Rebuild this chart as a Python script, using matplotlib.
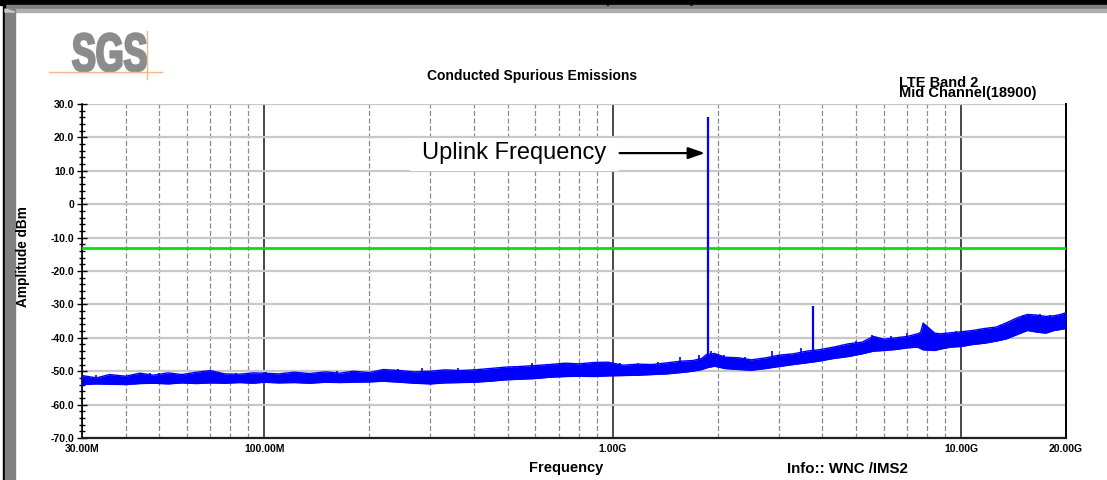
import matplotlib
matplotlib.use('Agg')
import matplotlib.pyplot as plt
import matplotlib.patches as patches
from matplotlib.textpath import TextPath
from matplotlib.font_manager import FontProperties
from matplotlib.transforms import Affine2D
from matplotlib.ticker import FixedLocator, LogLocator, NullFormatter
import numpy as np

plt.rcParams['font.family'] = ['Liberation Sans', 'DejaVu Sans']

# spectrum trace, read as an envelope (MHz, dBm)
trace_mhz = [30, 33, 36, 40, 44, 48, 53, 58, 64, 70, 77, 85, 93, 100, 110, 122, 135,
             150, 165, 180, 200, 220, 245, 270, 300, 330, 365, 400, 445, 490, 540, 600,
             660, 730, 800, 880, 970, 1070, 1180, 1300, 1430, 1570, 1700, 1800, 1860,
             1960, 2100, 2300, 2500, 2750, 3000, 3300, 3600, 3900, 4300, 4750, 5200,
             5600, 6000, 6500, 7000, 7500, 7650, 7780, 8400, 8700, 9300, 10000, 10800,
             11700, 12600, 13500, 14500, 15500, 16500, 17500, 18500, 19300, 20000]
trace_upper = [-51.3, -52.0, -51.0, -51.5, -50.6, -51.2, -50.5, -51.0, -50.3, -49.8, -50.8,
               -50.9, -50.5, -50.6, -50.8, -50.3, -50.7, -50.2, -50.6, -50.0, -50.4, -49.5,
               -49.8, -50.2, -50.0, -49.6, -49.8, -49.6, -49.2, -48.8, -48.6, -48.3, -48.0,
               -47.6, -47.8, -47.4, -47.3, -48.2, -47.9, -48.0, -47.5, -47.0, -46.8, -46.2,
               -45.0, -44.7, -45.8, -46.0, -46.6, -46.0, -45.2, -44.8, -44.0, -43.6, -42.8,
               -41.8, -41.3, -39.6, -40.4, -40.0, -39.6, -38.8, -38.4, -35.6, -38.6, -38.8,
               -38.5, -38.2, -37.8, -37.2, -36.8, -35.5, -34.0, -33.0, -33.2, -33.6, -33.4,
               -33.0, -32.5]
trace_lower = [-54.0, -53.8, -53.9, -54.0, -53.7, -53.6, -53.8, -53.5, -53.7, -53.5, -53.6,
               -53.4, -53.6, -53.3, -53.5, -53.4, -53.6, -53.3, -53.4, -53.3, -53.2, -53.0,
               -53.3, -53.6, -53.8, -53.5, -53.4, -53.3, -53.0, -52.6, -52.4, -52.2, -51.8,
               -51.6, -51.5, -51.6, -51.4, -51.3, -51.2, -51.0, -50.8, -50.4, -50.0, -49.5,
               -49.0, -48.5, -49.2, -49.5, -49.7, -49.2, -48.6, -48.0, -47.5, -47.0, -46.2,
               -45.6, -44.8, -44.0, -43.8, -43.5, -43.0, -42.8, -43.2, -43.6, -43.8, -43.4,
               -42.8, -42.6, -42.0, -41.6, -41.0, -40.3, -39.0, -37.8, -38.3, -38.6, -37.8,
               -37.5, -37.2]

# narrow noise spikes standing above the floor (MHz, dBm)
spike_mhz = [33, 38, 42, 47, 50, 55, 61, 69, 75, 83, 91, 101, 115, 128, 143, 162, 178,
             198, 219, 242, 284, 320, 360, 410, 465, 520, 586, 650, 700, 768, 876, 1050,
             1180, 1350, 1560, 1770, 1920, 2090, 2400, 2870, 3480, 4380, 5000, 5550, 6300,
             7000, 9700, 11800, 13000, 15100, 16800, 18000, 19700]
spike_dbm = [-51.2, -51.0, -50.8, -50.6, -50.5, -50.7, -50.6, -50.0, -50.6, -50.5, -50.7,
             -50.3, -50.5, -50.4, -50.5, -50.0, -50.3, -50.1, -49.4, -49.3, -49.1, -49.5,
             -49.1, -49.3, -49.4, -48.4, -47.6, -47.8, -47.4, -47.4, -47.2, -47.6, -47.6,
             -47.2, -45.6, -45.1, -44.1, -45.1, -45.8, -44.1, -43.1, -42.4, -41.0, -39.1,
             -39.4, -38.6, -38.1, -37.1, -36.2, -33.1, -33.0, -33.2, -32.6]

# discrete emissions: uplink carrier and its 2nd harmonic
peak_mhz = [1880, 3760]
peak_dbm = [26.0, -30.4]
peak_base = [-45.5, -46.0]

limit_dbm = -13.0

y_ticks = [30, 20, 10, 0, -10, -20, -30, -40, -50, -60, -70]
y_tick_labels = ['30.0', '20.0', '10.0', '0', '-10.0', '-20.0', '-30.0', '-40.0',
                 '-50.0', '-60.0', '-70.0']
x_ticks_mhz = [30, 100, 1000, 10000, 20000]
x_tick_labels = ['30.00M', '100.00M', '1.00G', '10.00G', '20.00G']

W, H = 1107, 480
fig = plt.figure(figsize=(W / 100, H / 100), dpi=100)

# page frame, logo and captions live on a full-figure overlay in pixel units
over = fig.add_axes([0, 0, 1, 1], zorder=0)
over.set_xlim(0, W)
over.set_ylim(H, 0)
over.axis('off')
over.add_patch(patches.Rectangle((0, 0), W, 5, color='black'))
over.add_patch(patches.Rectangle((5, 5), W - 5, 4, color='#7f7f7f'))
over.add_patch(patches.Rectangle((5, 9), W - 5, 3, color='#b0b0b0'))
over.add_patch(patches.Rectangle((3, 0), 2, H, color='black'))
over.add_patch(patches.Rectangle((5, 9), 10, H - 9, color='#808080'))
over.add_patch(patches.Polygon([(5, 9), (15, 12), (15, 12), (5, 12)], color='#c8c8c8'))
over.text(605, 6, '(', fontsize=16, ha='center', va='bottom', color='black')
over.text(694, 6, ')', fontsize=16, ha='center', va='bottom', color='black')

# SGS logo, squeezed to the narrow letterforms
tp = TextPath((0, 0), 'SGS', size=1, prop=FontProperties(family='Liberation Sans', weight='bold'))
ext = tp.get_extents()
logo_tf = Affine2D().translate(-ext.x0, -ext.y0).scale(73 / ext.width, -38 / ext.height).translate(73, 71.5)
over.add_patch(patches.PathPatch(logo_tf.transform_path(tp), facecolor='#8c8c8c',
                                 edgecolor='#8c8c8c', lw=1.8))
over.plot([49, 162], [72, 72], color='#f6b78c', lw=1)
over.plot([146.5, 146.5], [31, 79], color='#f6b78c', lw=1)

bold = dict(fontweight='bold', color='black')
over.text(532, 76, 'Conducted Spurious Emissions', fontsize=10, ha='center', va='center', **bold)
over.text(899, 87, 'LTE Band 2', fontsize=10.5, ha='left', va='baseline', **bold)
over.text(899, 97, 'Mid Channel(18900)', fontsize=10.5, ha='left', va='baseline', **bold)
over.text(566, 468, 'Frequency', fontsize=10.5, ha='center', va='center', **bold)
over.text(787, 469, 'Info:: WNC /IMS2', fontsize=10.8, ha='left', va='center', **bold)
over.text(23, 257, 'Amplitude dBm', fontsize=9.8, rotation=90, ha='center', va='center', **bold)

ax = fig.add_axes([82 / W, 1 - 438 / H, (1066 - 82) / W, (438 - 104) / H], zorder=1)
ax.set_xscale('log')
ax.set_xlim(30e6, 20e9)
ax.set_ylim(-70, 30)

f_hz = np.array(trace_mhz) * 1e6
ax.fill_between(f_hz, trace_lower, trace_upper, color='#0000ff', lw=0, zorder=4)
ax.plot(f_hz, trace_upper, color='#0000ff', lw=1.0, zorder=4)
ax.plot(f_hz, trace_lower, color='#0000ff', lw=1.0, zorder=4)
spike_hz = np.array(spike_mhz) * 1e6
ax.vlines(spike_hz, np.interp(spike_hz, f_hz, trace_lower), spike_dbm,
          color='#0000ff', lw=1.2, zorder=4)
ax.vlines(np.array(peak_mhz) * 1e6, peak_base, peak_dbm, color='#0000ff', lw=1.6, zorder=4)
ax.axhline(limit_dbm, color='#00e600', lw=2, zorder=3)

# white label box over the grid, with an arrow pointing at the carrier
ax.add_patch(patches.Rectangle((0.262e9, 9.9), 1.04e9 - 0.262e9, 9.95, facecolor='white',
                               edgecolor='none', zorder=2.5))
ax.text(0.52e9, 15.4, 'Uplink Frequency', fontsize=17, ha='center', va='center', zorder=5)
ax.annotate('', xy=(1.84e9, 15.3), xytext=(1.047e9, 15.3),
            arrowprops=dict(arrowstyle='-|>,head_length=1.0,head_width=0.35', color='black',
                            lw=1.6, shrinkA=0, shrinkB=0), zorder=5)

ax.xaxis.set_major_locator(FixedLocator(np.array(x_ticks_mhz) * 1e6))
ax.set_xticklabels(x_tick_labels)
ax.xaxis.set_minor_locator(LogLocator(base=10, subs=[2, 3, 4, 5, 6, 7, 8, 9]))
ax.xaxis.set_minor_formatter(NullFormatter())
ax.set_yticks(y_ticks)
ax.set_yticklabels(y_tick_labels)
ax.yaxis.set_minor_locator(FixedLocator(np.arange(-70, 31, 2)))

ax.grid(True, which='major', axis='y', color='#c8c8c8', lw=1.6, zorder=1)
ax.grid(True, which='major', axis='x', color='#2a2a2a', lw=1.2)
ax.grid(True, which='minor', axis='x', color='#8a8a8a', lw=0.9, ls=(0, (4, 2)))
ax.set_axisbelow(True)

ax.tick_params(axis='x', which='both', length=0, pad=4, labelsize=7.5)
ax.tick_params(axis='y', which='major', direction='inout', length=7, width=1, pad=2, labelsize=7.5)
ax.tick_params(axis='y', which='minor', direction='inout', length=5, width=1)
for lab in ax.get_xticklabels() + ax.get_yticklabels():
    lab.set_fontweight('bold')

ax.spines['top'].set_visible(False)
ax.spines['left'].set_linewidth(1.2)
ax.spines['right'].set_linewidth(1.4)
ax.spines['bottom'].set_linewidth(1.6)
ax.spines['bottom'].set_color('#202020')

fig.savefig('out.png', dpi=100)
